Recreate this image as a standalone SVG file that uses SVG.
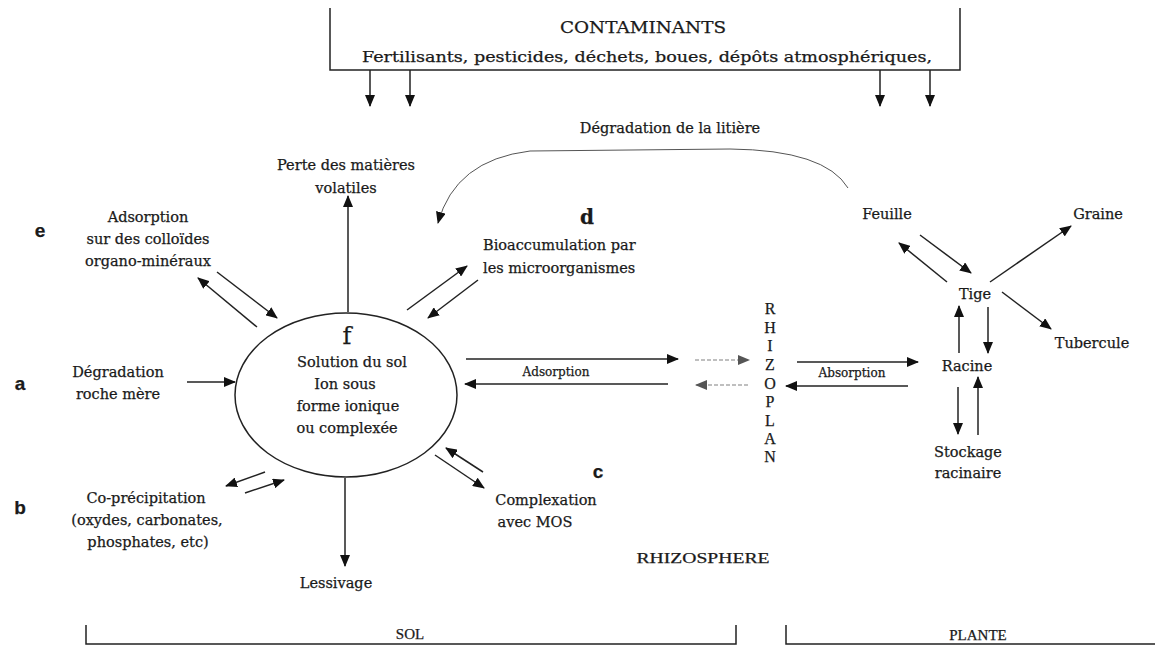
<svg xmlns="http://www.w3.org/2000/svg" width="1155" height="648" viewBox="0 0 1155 648">
<style>
text{font-family:"DejaVu Serif","Liberation Serif",serif;fill:#1a1a1a;font-size:14.5px;text-anchor:middle;stroke:#1a1a1a;stroke-width:0.25}
.st{text-anchor:start}
.sm{font-size:12px}
.big{font-size:16px}
.f{font-size:24px}
.dd{font-size:20px;font-weight:bold}
.ltr{font-family:"Liberation Sans",Arial,sans-serif;font-weight:bold;font-size:19px}
.rz{font-family:"Liberation Serif",serif;font-size:16px}
.br{font-family:"Liberation Serif",serif;font-size:15px}
.ln{stroke:#222;stroke-width:1.5;fill:none}
.ar{stroke:#222;stroke-width:1.5;fill:none;marker-end:url(#ah)}
.fa{stroke:#aaa;stroke-width:1.5;fill:none;stroke-dasharray:4 2;marker-end:url(#ahg)}
.cv{stroke:#555;stroke-width:1;fill:none;marker-end:url(#ah)}
</style>
<defs>
<marker id="ah" markerUnits="userSpaceOnUse" markerWidth="12" markerHeight="10" refX="11" refY="5" orient="auto"><path d="M0,0 L12,5 L0,10 Z" fill="#111"/></marker>
<marker id="ahg" markerUnits="userSpaceOnUse" markerWidth="12" markerHeight="10" refX="11" refY="5" orient="auto"><path d="M0,0 L12,5 L0,10 Z" fill="#555"/></marker>
</defs>
<rect width="1155" height="648" fill="#fff"/>

<g id="contaminants">
<polyline class="ln" points="330,8 330,70 960,70 960,8"/>
<text class="big" x="643" y="33" textLength="166" lengthAdjust="spacingAndGlyphs">CONTAMINANTS</text>
<text x="647" y="62" textLength="570" lengthAdjust="spacingAndGlyphs">Fertilisants, pesticides, déchets, boues, dépôts atmosphériques,</text>
</g>

<g id="litiere"><text x="670" y="133">Dégradation de la litière</text></g>
<g id="volatiles"><text x="346" y="170">Perte des matières</text><text x="346" y="193">volatiles</text></g>
<g id="e"><text class="ltr" x="40" y="237">e</text><text x="148" y="222">Adsorption</text><text x="148" y="244">sur des colloïdes</text><text x="148" y="266">organo-minéraux</text></g>
<g id="d"><text class="dd" x="587" y="224">d</text><text class="st" x="483" y="250">Bioaccumulation par</text><text class="st" x="483" y="273">les microorganismes</text></g>
<g id="a"><text class="ltr" x="20" y="390">a</text><text x="118" y="377">Dégradation</text><text x="118" y="399">roche mère</text></g>
<g id="solution">
<ellipse cx="346" cy="395" rx="111" ry="82" fill="none" stroke="#222" stroke-width="1.5"/>
<text class="f" x="347" y="344">f</text>
<text x="352" y="367">Solution du sol</text>
<text x="345" y="389">Ion sous</text>
<text x="348" y="411">forme ionique</text>
<text x="347" y="433">ou complexée</text>
</g>
<g id="b"><text class="ltr" x="20" y="514">b</text><text x="146" y="503">Co-précipitation</text><text x="147" y="525">(oxydes, carbonates,</text><text x="148" y="547">phosphates, etc)</text></g>
<g id="lessivage"><text x="336" y="588">Lessivage</text></g>
<g id="c"><text class="ltr" x="598" y="478">c</text><text x="546" y="505">Complexation</text><text x="535" y="527">avec MOS</text></g>
<g id="rhizosphere"><text class="br" x="703" y="563" textLength="133" lengthAdjust="spacingAndGlyphs">RHIZOSPHERE</text></g>
<g id="rhizoplan">
<text class="rz" x="770" y="314">R</text><text class="rz" x="770" y="333">H</text><text class="rz" x="770" y="351">I</text><text class="rz" x="770" y="370">Z</text><text class="rz" x="770" y="389">O</text><text class="rz" x="770" y="407">P</text><text class="rz" x="770" y="426">L</text><text class="rz" x="770" y="444">A</text><text class="rz" x="770" y="462">N</text>
</g>
<g id="feuille"><text x="887" y="219">Feuille</text></g>
<g id="graine"><text x="1098" y="219">Graine</text></g>
<g id="tige"><text x="975" y="299">Tige</text></g>
<g id="tubercule"><text x="1092" y="348">Tubercule</text></g>
<g id="racine"><text x="967" y="371">Racine</text></g>
<g id="stockage"><text x="968" y="457">Stockage</text><text x="968" y="478">racinaire</text></g>
<g id="sol"><polyline class="ln" points="86,625 86,644 736,644 736,625"/><text class="br" x="410" y="639">SOL</text></g>
<g id="plante"><polyline class="ln" points="786,625 786,644 1155,644"/><text class="br" x="978" y="640">PLANTE</text></g>

<g id="connectors">
<line class="ar" x1="370" y1="70" x2="370" y2="106"/>
<line class="ar" x1="410" y1="70" x2="410" y2="106"/>
<line class="ar" x1="880" y1="70" x2="880" y2="106"/>
<line class="ar" x1="930" y1="70" x2="930" y2="106"/>
<path class="cv" d="M848,188 Q825,150 730,149 L530,151 Q455,160 438,223"/>
<line class="ar" x1="348" y1="312" x2="348" y2="196"/>
<line class="ar" x1="257" y1="327" x2="198" y2="278"/>
<line class="ar" x1="217" y1="272" x2="277" y2="318"/>
<line class="ar" x1="407" y1="310" x2="467" y2="266"/>
<line class="ar" x1="478" y1="280" x2="428" y2="318"/>
<line class="ar" x1="187" y1="382" x2="235" y2="382"/>
<line class="ar" x1="265" y1="472" x2="226" y2="486"/>
<line class="ar" x1="245" y1="493" x2="284" y2="480"/>
<line class="ar" x1="345" y1="478" x2="345" y2="566"/>
<line class="ar" x1="435" y1="455" x2="484" y2="488"/>
<line class="ar" x1="483" y1="472" x2="446" y2="448"/>
<line class="ar" x1="466" y1="359" x2="678" y2="359"/>
<line class="ar" x1="668" y1="384" x2="465" y2="384"/>
<text class="sm" x="556" y="376">Adsorption</text>
<line class="fa" x1="695" y1="360" x2="749" y2="360"/>
<line class="fa" x1="748" y1="385" x2="696" y2="385"/>
<line class="ar" x1="797" y1="362" x2="918" y2="362"/>
<line class="ar" x1="908" y1="386" x2="786" y2="386"/>
<text class="sm" x="852" y="377">Absorption</text>
<line class="ar" x1="920" y1="235" x2="971" y2="273"/>
<line class="ar" x1="947" y1="282" x2="899" y2="243"/>
<line class="ar" x1="990" y1="282" x2="1071" y2="226"/>
<line class="ar" x1="1002" y1="292" x2="1051" y2="329"/>
<line class="ar" x1="959" y1="353" x2="959" y2="306"/>
<line class="ar" x1="988" y1="307" x2="988" y2="353"/>
<line class="ar" x1="958" y1="387" x2="958" y2="434"/>
<line class="ar" x1="978" y1="435" x2="978" y2="377"/>
</g>
</svg>
